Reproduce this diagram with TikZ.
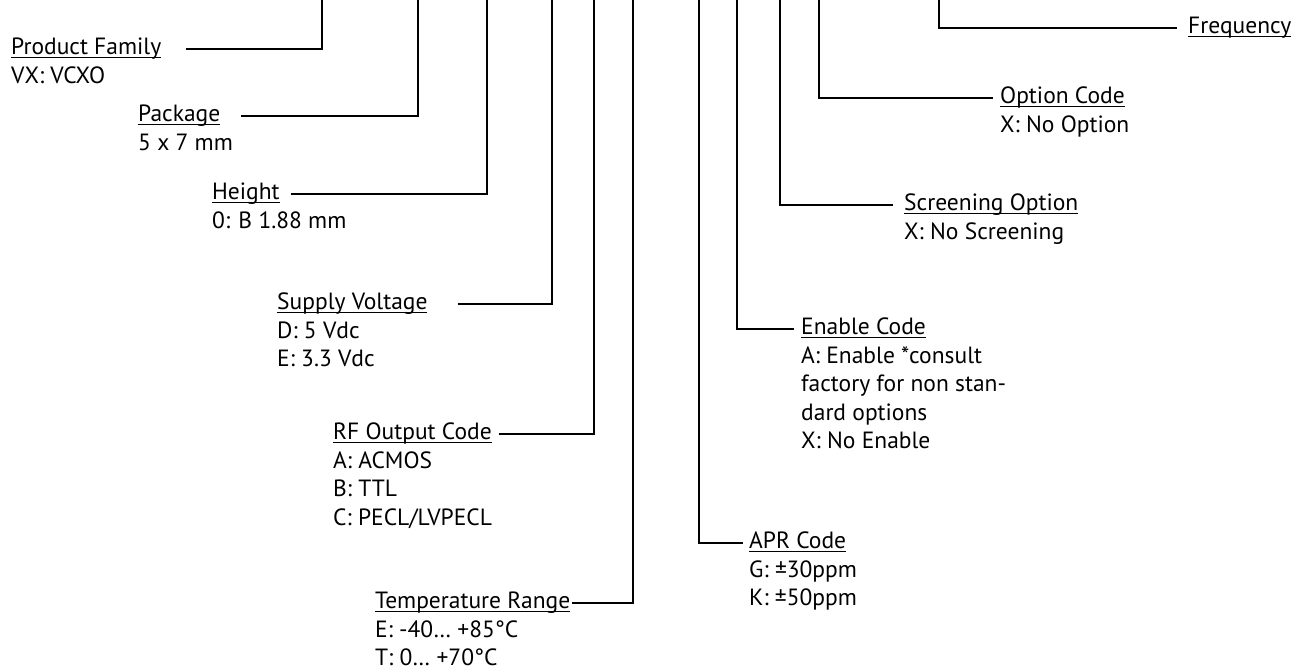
\documentclass[tikz,border=0pt]{standalone}
\usepackage{fontspec}
\setmainfont{PT Sans}
\usetikzlibrary{positioning}
\newsavebox{\titlebox}
\newcommand{\ultitle}[1]{\sbox{\titlebox}{#1}\rlap{\rule[-3.5pt]{\wd\titlebox}{1.2pt}}\usebox{\titlebox}}
\tikzset{
  every node/.append style={font=\fontsize{23.5}{28.4}\selectfont},
  parttitle/.style={inner sep=0pt, anchor=west},
  partvals/.style={inner sep=0pt, align=left, below=0pt of #1.south west, anchor=north west},
  lead/.style={line width=2.6pt, line join=miter}
}

\begin{document}
\begin{tikzpicture}[x=1pt,y=-1pt]
  \useasboundingbox (0,0) rectangle (1299,669);
  % left side codes, leads go right then up
  \node[parttitle] (fam) at (11,49) {\ultitle{Product Family}\strut};
  \node[partvals=fam] (fam-v) {\strut VX: VCXO};
  \coordinate (fam-top) at (322,0);
  \draw[lead] ([xshift=25pt]fam.east) -| (fam-top);

  \node[parttitle] (pkg) at (138,116) {\ultitle{Package}\strut};
  \node[partvals=pkg] (pkg-v) {\strut 5 x 7 mm};
  \coordinate (pkg-top) at (418,0);
  \draw[lead] ([xshift=21pt]pkg.east) -| (pkg-top);

  \node[parttitle] (hgt) at (212,194) {\ultitle{Height}\strut};
  \node[partvals=hgt] (hgt-v) {\strut 0: B 1.88 mm};
  \coordinate (hgt-top) at (487,0);
  \draw[lead] ([xshift=11pt]hgt.east) -| (hgt-top);

  \node[parttitle] (sup) at (277,304) {\ultitle{Supply Voltage}\strut};
  \node[partvals=sup] (sup-v) {\strut D: 5 Vdc\\E: 3.3 Vdc};
  \coordinate (sup-top) at (552,0);
  \draw[lead] ([xshift=30pt]sup.east) -| (sup-top);

  \node[parttitle] (rfo) at (333,434) {\ultitle{RF Output Code}\strut};
  \node[partvals=rfo] (rfo-v) {\strut A: ACMOS\\B: TTL\\C: PECL/LVPECL};
  \coordinate (rfo-top) at (594,0);
  \draw[lead] ([xshift=7pt]rfo.east) -| (rfo-top);

  \node[parttitle] (tmp) at (375,603) {\ultitle{Temperature Range}\strut};
  \node[partvals=tmp] (tmp-v) {\strut E: -40… +85°C\\T: 0… +70°C};
  \coordinate (tmp-top) at (633,0);
  \draw[lead] ([xshift=2pt]tmp.east) -| (tmp-top);

  % right side codes, leads come down then right
  \node[parttitle] (apr) at (749,543) {\ultitle{APR Code}\strut};
  \node[partvals=apr] (apr-v) {\strut G: ±30ppm\\K: ±50ppm};
  \coordinate (apr-top) at (699,0);
  \draw[lead] (apr-top) |- ([xshift=-6pt]apr.west);

  \node[parttitle] (ena) at (801,329) {\ultitle{Enable Code}\strut};
  \node[partvals=ena] (ena-v) {\strut A: Enable *consult\\factory for non stan-\\dard options\\X: No Enable};
  \coordinate (ena-top) at (737,0);
  \draw[lead] (ena-top) |- ([xshift=-7pt]ena.west);

  \node[parttitle] (scr) at (904,205) {\ultitle{Screening Option}\strut};
  \node[partvals=scr] (scr-v) {\strut X: No Screening};
  \coordinate (scr-top) at (780,0);
  \draw[lead] (scr-top) |- ([xshift=-11pt]scr.west);

  \node[parttitle] (opt) at (1000,98) {\ultitle{Option Code}\strut};
  \node[partvals=opt] (opt-v) {\strut X: No Option};
  \coordinate (opt-top) at (819,0);
  \draw[lead] (opt-top) |- ([xshift=-7pt]opt.west);

  \node[parttitle] (frq) at (1188,28) {\ultitle{Frequency}\strut};
  \coordinate (frq-top) at (939,0);
  \draw[lead] (frq-top) |- ([xshift=-11pt]frq.west);
\end{tikzpicture}
\end{document}
